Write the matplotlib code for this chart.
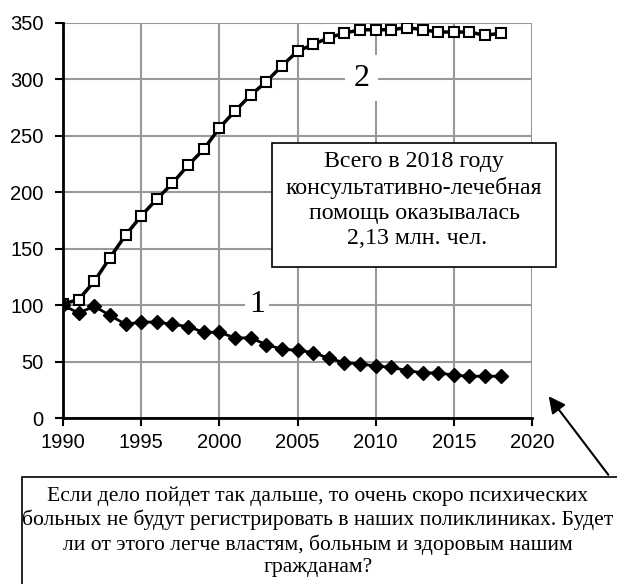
import matplotlib.pyplot as plt
import matplotlib.patches as patches

years = list(range(1990, 2019))

# 1 - diamonds
series1 = [100, 93, 99, 91, 83, 85, 85, 83, 81, 76, 76, 71, 71, 65, 61, 60, 58, 53, 49, 48, 46, 45, 42, 40, 40, 38, 37, 37, 37]
# 2 - squares
series2 = [101, 105, 121, 142, 162, 179, 194, 208, 224, 238, 257, 272, 286, 298, 312, 325, 331, 337, 341, 344, 344, 344, 346, 344, 342, 342, 342, 339, 341]

x_ticks = [1990, 1995, 2000, 2005, 2010, 2015, 2020]
y_ticks = [0, 50, 100, 150, 200, 250, 300, 350]

box_text = "Всего в 2018 году\nконсультативно-лечебная\nпомощь оказывалась\n 2,13 млн. чел."
bottom_text = ("Если дело пойдет так дальше, то очень скоро психических\n"
               "больных не будут регистрировать в наших поликлиниках. Будет\n"
               "ли от этого легче властям, больным и здоровым нашим\n"
               "гражданам?")

fig = plt.figure(figsize=(6.17, 5.84), dpi=100)
ax = fig.add_axes([63 / 617, 1 - 418 / 584, (532 - 63) / 617, (418 - 23) / 584])

ax.plot(years, series2, color="black", lw=2.5, marker="s", ms=7.5,
        mfc="white", mec="black", mew=1.5, zorder=3)
ax.plot(years, series1, color="black", lw=2, marker="D", ms=7.5,
        mfc="black", mec="black", zorder=3)

ax.set_xlim(1990, 2020)
ax.set_ylim(0, 350)
ax.set_xticks(x_ticks)
ax.set_yticks(y_ticks)
ax.grid(True, color="#999999", lw=1.5)
ax.set_axisbelow(True)
for s in ["top", "right"]:
    ax.spines[s].set_visible(False)
for s in ["left", "bottom"]:
    ax.spines[s].set_linewidth(2)
ax.tick_params(direction="out", length=6, width=1.5, labelsize=14.5)
ax.tick_params(axis="y", pad=8)
ax.tick_params(axis="x", pad=5)
for lab in ax.get_xticklabels() + ax.get_yticklabels():
    lab.set_fontfamily("Liberation Sans")

serif = "Liberation Serif"
ax.text(2009.1, 301, "2", fontsize=23, family=serif, ha="center", va="center",
        bbox=dict(facecolor="white", edgecolor="none", pad=6), zorder=4)
ax.text(2002.4, 101, "1", fontsize=23, family=serif, ha="center", va="center",
        bbox=dict(facecolor="white", edgecolor="none", pad=3), zorder=4)

# box inside the chart
fig.patches.append(patches.Rectangle((272 / 617, 1 - 267 / 584), (556 - 272) / 617, (267 - 143) / 584,
                                     transform=fig.transFigure, facecolor="white",
                                     edgecolor="black", lw=1.2, zorder=5))
fig.text((272 + 556) / 2 / 617, 1 - 200 / 584, box_text, family=serif, fontsize=17.2,
         ha="center", va="center", linespacing=1.25, zorder=6)

# bottom box
fig.patches.append(patches.Rectangle((22 / 617, -0.01), (640 - 22) / 617, 1 - 477 / 584 + 0.01,
                                     transform=fig.transFigure, facecolor="white",
                                     edgecolor="black", lw=1.2, zorder=5))
fig.text(318 / 617, 1 - 532 / 584, bottom_text, family=serif, fontsize=15.6,
         ha="center", va="center", linespacing=1.25, zorder=6)

ax.annotate("", xy=(547 / 617, 1 - 394 / 584), xycoords="figure fraction",
            xytext=(610 / 617, 1 - 477 / 584), textcoords="figure fraction",
            arrowprops=dict(arrowstyle="-|>", color="black", lw=1.5, mutation_scale=25),
            annotation_clip=False)

fig.savefig("out.png", dpi=100)
